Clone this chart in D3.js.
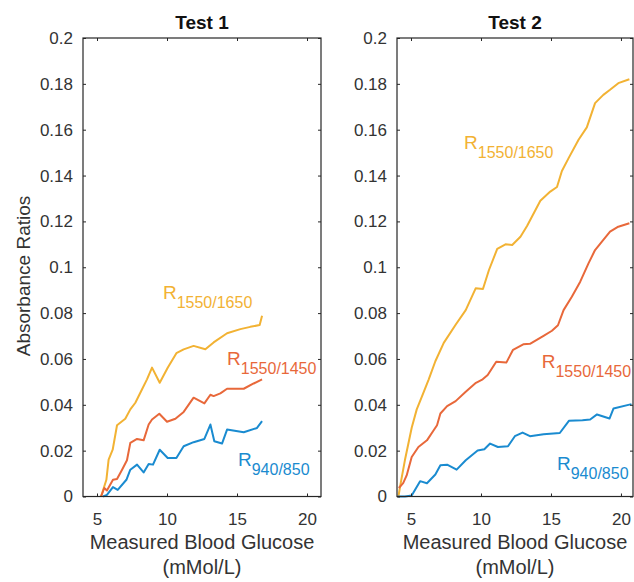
<!DOCTYPE html>
<html>
<head>
<meta charset="utf-8">
<script src="https://cdn.jsdelivr.net/npm/d3@7"></script>
<style>
  body { margin: 0; background: #fff; }
  svg { display: block; font-family: "Liberation Sans", Arial, sans-serif; }
  .tick text { fill: #333; }
  .tick line { stroke: #262626; }
</style>
</head>
<body>
<div id="chart"></div>
<script>
// tick labels
var xTicks = [5, 10, 15, 20];
var yTicks = [0, 0.02, 0.04, 0.06, 0.08, 0.1, 0.12, 0.14, 0.16, 0.18, 0.2];

// Test 1, [glucose, ratio]
var test1R1550_1650 = [[5.29,0],[5.67,0.0073],[5.83,0.0161],[6.12,0.0204],[6.43,0.0311],[7.02,0.0339],
  [7.38,0.038],[7.74,0.0409],[8.21,0.0467],[8.57,0.0511],[8.93,0.0562],[9.48,0.0496],[10.05,0.0562],
  [10.67,0.0625],[11.19,0.0642],[11.9,0.0657],[12.74,0.0642],[13.33,0.0672],[14.29,0.0712],
  [15.24,0.073],[15.95,0.074],[16.62,0.0748],[16.79,0.0788]];
var test1R1550_1450 = [[5.29,0],[5.52,0.0037],[5.71,0.0026],[6.14,0.0073],[6.43,0.0076],[6.79,0.0117],
  [7.14,0.0158],[7.38,0.0234],[7.86,0.0251],[8.33,0.0245],[8.69,0.0314],[8.93,0.0336],[9.45,0.0361],
  [10.0,0.0326],[10.6,0.0339],[11.19,0.0369],[11.9,0.0431],[12.67,0.0406],[13.1,0.0444],[13.33,0.0438],
  [13.81,0.045],[14.29,0.047],[15.48,0.047],[16.19,0.0493],[16.79,0.0511]];
var test1R940_850 = [[5.43,0],[5.71,0.0007],[6.14,0.0041],[6.48,0.0029],[7.1,0.0073],[7.38,0.0117],
  [7.86,0.0139],[8.33,0.0105],[8.69,0.0142],[9.0,0.0139],[9.48,0.0204],[10.05,0.0168],[10.67,0.0168],
  [11.19,0.0219],[11.9,0.0237],[12.67,0.0251],[13.1,0.0314],[13.38,0.0241],[13.93,0.0231],[14.29,0.0292],
  [15.48,0.028],[16.43,0.0299],[16.79,0.0329]];

// Test 2
var test2R1550_1650 = [[4.1,0],[4.3,0.007],[4.57,0.016],[5.05,0.030],[5.41,0.038],[5.77,0.0435],
  [6.26,0.051],[6.74,0.059],[7.34,0.067],[8.2,0.075],[8.91,0.0813],[9.62,0.0908],[10.14,0.0905],
  [10.57,0.0988],[11.16,0.108],[11.75,0.110],[12.23,0.1097],[12.82,0.1133],[13.29,0.118],[14.24,0.129],
  [14.95,0.133],[15.43,0.135],[15.78,0.142],[16.26,0.1476],[16.97,0.1556],[17.56,0.161],[18.15,0.1716],
  [18.74,0.1752],[19.22,0.1774],[19.81,0.1803],[20.6,0.182]];
var test2R1550_1450 = [[4.13,0.0037],[4.44,0.0058],[4.69,0.0092],[5.05,0.0172],[5.53,0.0216],[6.14,0.0245],
  [6.62,0.0289],[6.86,0.0311],[7.1,0.0362],[7.58,0.0394],[8.19,0.0416],[8.91,0.0457],[9.64,0.0496],
  [10.12,0.0511],[10.48,0.053],[11.09,0.0588],[11.81,0.0584],[12.29,0.064],[13.02,0.0664],[13.5,0.0666],
  [14.47,0.0701],[15.07,0.0723],[15.5,0.0747],[15.9,0.0813],[16.49,0.0871],[17.09,0.0937],[17.68,0.1017],
  [18.15,0.1075],[18.74,0.1119],[19.22,0.1155],[19.81,0.1177],[20.6,0.1192]];
var test2R940_850 = [[4.08,0],[4.57,0],[5.05,0.0004],[5.65,0.0067],[6.14,0.0058],[6.74,0.0096],[7.1,0.0136],
  [7.58,0.0139],[8.26,0.0117],[8.91,0.0158],[9.76,0.0201],[10.24,0.0206],[10.65,0.0231],[11.21,0.0216],
  [11.93,0.0219],[12.42,0.0263],[12.97,0.0279],[13.5,0.0263],[14.47,0.0272],[15.63,0.0277],[16.28,0.033],
  [17.25,0.0333],[17.8,0.0336],[18.29,0.0358],[19.18,0.034],[19.47,0.0384],[20.75,0.0403]];

var seriesNames = ["1550/1650", "1550/1450", "940/850"];
var seriesColors = ["#f2b233", "#e8683a", "#1a8bd0"];

var width = 634, height = 582;

var svg = d3.select('#chart').append('svg')
    .attr('width', width)
    .attr('height', height);

var y = d3.scaleLinear().domain([0, 0.2]).range([496.5, 38]);

var panels = [
  { title: "Test 1", left: 83, right: 321, xmax: 21,
    series: [test1R1550_1650, test1R1550_1450, test1R940_850],
    // label anchors in data units
    labels: [[9.71, 0.086], [14.29, 0.0575], [15.07, 0.0133]] },
  { title: "Test 2", left: 397, right: 633, xmax: 20.86,
    series: [test2R1550_1650, test2R1550_1450, test2R940_850],
    labels: [[8.79, 0.1516], [14.34, 0.0562], [15.43, 0.0116]] }
];

panels.forEach(function (p) {
  var x = d3.scaleLinear().domain([4, p.xmax]).range([p.left, p.right]);
  var g = svg.append('g');

  // lines
  var line = d3.line()
      .x(function (d) { return x(d[0]); })
      .y(function (d) { return y(d[1]); });
  p.series.forEach(function (s, i) {
    g.append('path')
        .datum(s)
        .attr('fill', 'none')
        .attr('stroke', seriesColors[i])
        .attr('stroke-width', 2)
        .attr('stroke-linejoin', 'round')
        .attr('d', line);
  });

  // axes, ticks pointing inward
  var fmtY = function (d) { return String(+d.toFixed(2)); };
  g.append('g')
      .attr('transform', 'translate(0,' + y(0) + ')')
      .call(d3.axisBottom(x).tickValues(xTicks).tickSizeInner(-3).tickSizeOuter(0).tickPadding(16.5))
      .call(function (a) { a.select('.domain').remove(); })
      .selectAll('text').attr('font-size', 17);
  g.append('g')
      .attr('transform', 'translate(0,' + y(0.2) + ')')
      .call(d3.axisTop(x).tickValues(xTicks).tickSizeInner(-3).tickSizeOuter(0).tickFormat(''))
      .call(function (a) { a.select('.domain').remove(); });
  g.append('g')
      .attr('transform', 'translate(' + p.left + ',0)')
      .call(d3.axisLeft(y).tickValues(yTicks).tickSizeInner(-3).tickSizeOuter(0).tickPadding(10).tickFormat(fmtY))
      .call(function (a) { a.select('.domain').remove(); })
      .selectAll('text').attr('font-size', 17);
  g.append('g')
      .attr('transform', 'translate(' + p.right + ',0)')
      .call(d3.axisRight(y).tickValues(yTicks).tickSizeInner(-3).tickSizeOuter(0).tickFormat(''))
      .call(function (a) { a.select('.domain').remove(); });

  // box
  g.append('rect')
      .attr('x', p.left)
      .attr('y', y(0.2))
      .attr('width', p.right - p.left)
      .attr('height', y(0) - y(0.2))
      .attr('fill', 'none')
      .attr('stroke', '#262626')
      .attr('stroke-width', 1.2);

  var cx = (p.left + p.right) / 2;
  g.append('text')
      .attr('x', cx).attr('y', 29)
      .attr('text-anchor', 'middle')
      .attr('font-size', 19)
      .attr('font-weight', 'bold')
      .attr('fill', '#111')
      .text(p.title);

  g.append('text')
      .attr('x', cx).attr('y', 549)
      .attr('text-anchor', 'middle')
      .attr('font-size', 20)
      .attr('fill', '#333')
      .text('Measured Blood Glucose');
  g.append('text')
      .attr('x', cx).attr('y', 574)
      .attr('text-anchor', 'middle')
      .attr('font-size', 20)
      .attr('fill', '#333')
      .text('(mMol/L)');

  // series labels R with subscript
  p.labels.forEach(function (l, i) {
    var t = g.append('text')
        .attr('x', x(l[0]))
        .attr('y', y(l[1]))
        .attr('fill', seriesColors[i]);
    t.append('tspan').attr('font-size', 19).text('R');
    t.append('tspan').attr('font-size', 16).attr('dy', 9).text(seriesNames[i]);
  });
});

svg.append('text')
    .attr('transform', 'translate(30,276) rotate(-90)')
    .attr('text-anchor', 'middle')
    .attr('font-size', 19)
    .attr('fill', '#333')
    .text('Absorbance Ratios');
</script>
</body>
</html>
